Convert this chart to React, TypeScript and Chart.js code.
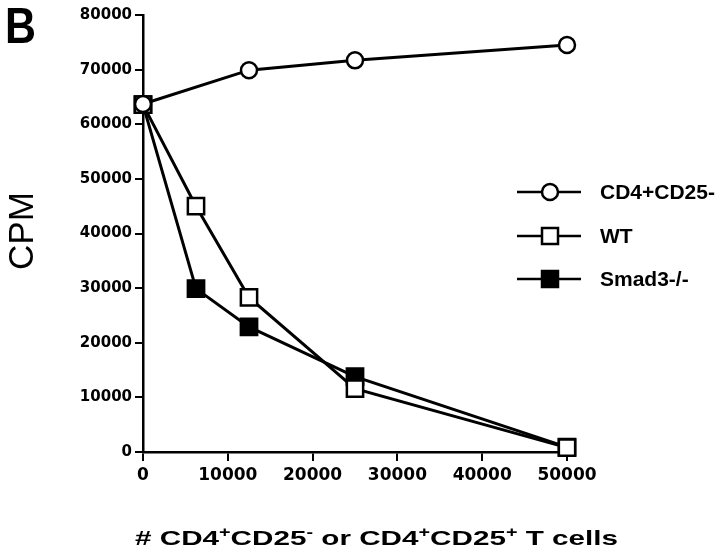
import { useEffect, useRef } from "react";
import { Chart, registerables } from "chart.js";

Chart.register(...registerables);

// ---- data ----
const controlCells = [0, 12500, 25000, 50000];
const controlCPM = [63700, 69900, 71700, 74500];
const suppressorCells = [0, 6250, 12500, 25000, 50000];
const wtCPM = [63600, 45000, 28300, 11600, 800];
const smadCPM = [63600, 29900, 22900, 13800, 900];
const seriesNames = ["CD4+CD25-", "WT", "Smad3-/-"];
const xTicks = [0, 10000, 20000, 30000, 40000, 50000];
const yTicks = [0, 10000, 20000, 30000, 40000, 50000, 60000, 70000, 80000];
const panelLetter = "B";
const yTitle = "CPM";
const xTitleParts: [string, boolean][] = [
  ["# CD4", false],
  ["+", true],
  ["CD25", false],
  ["-", true],
  [" or CD4", false],
  ["+", true],
  ["CD25", false],
  ["+", true],
  [" T cells", false],
];

function toPoints(xs: number[], ys: number[]) {
  return xs.map((x, i) => ({ x, y: ys[i] }));
}

function drawFitted(
  ctx: CanvasRenderingContext2D,
  text: string,
  x: number,
  y: number,
  width: number,
  font: string
) {
  ctx.save();
  ctx.font = font;
  const w = ctx.measureText(text).width;
  ctx.translate(x, y);
  ctx.scale(width / w, 1);
  ctx.fillText(text, 0, 0);
  ctx.restore();
}

const decorPlugin = {
  id: "decor",
  afterDraw(chart: any) {
    const ctx: CanvasRenderingContext2D = chart.ctx;
    ctx.save();
    ctx.fillStyle = "#000";
    ctx.strokeStyle = "#000";
    ctx.textBaseline = "alphabetic";
    ctx.textAlign = "left";

    // Panel letter
    drawFitted(ctx, panelLetter, 5, 43, 31, "bold 50px 'Liberation Sans'");

    // Y title (rotated)
    ctx.save();
    ctx.translate(33, 270);
    ctx.rotate(-Math.PI / 2);
    drawFitted(ctx, yTitle, 0, 0, 78, "35px 'Liberation Sans'");
    ctx.restore();

    // X title with superscripts
    const mainFont = "bold 21px 'Liberation Sans'";
    const supFont = "bold 14px 'Liberation Sans'";
    let total = 0;
    const widths = xTitleParts.map(([t, sup]) => {
      ctx.font = sup ? supFont : mainFont;
      const w = ctx.measureText(t).width;
      total += w;
      return w;
    });
    const targetW = 483;
    const sx = targetW / total;
    ctx.save();
    ctx.translate(135, 545);
    ctx.scale(sx, 1);
    let cx = 0;
    xTitleParts.forEach(([t, sup], i) => {
      ctx.font = sup ? supFont : mainFont;
      ctx.fillText(t, cx, sup ? -8 : 0);
      cx += widths[i];
    });
    ctx.restore();

    // Legend
    const legendY = [192, 236, 279];
    legendY.forEach((ly, i) => {
      ctx.lineWidth = 2.5;
      ctx.beginPath();
      ctx.moveTo(517, ly);
      ctx.lineTo(581, ly);
      ctx.stroke();
      if (i === 0) {
        ctx.beginPath();
        ctx.arc(550, ly, 8, 0, Math.PI * 2);
        ctx.fillStyle = "#fff";
        ctx.fill();
        ctx.stroke();
      } else {
        ctx.beginPath();
        ctx.rect(550 - 8, ly - 8, 16, 16);
        ctx.fillStyle = i === 1 ? "#fff" : "#000";
        ctx.fill();
        ctx.stroke();
      }
      ctx.fillStyle = "#000";
      ctx.font = "bold 21px 'Liberation Sans'";
      ctx.textBaseline = "middle";
      ctx.fillText(seriesNames[i], 600, ly + 1);
      ctx.textBaseline = "alphabetic";
    });
    ctx.restore();
  },
};

export default function App() {
  const canvasRef = useRef<HTMLCanvasElement | null>(null);

  useEffect(() => {
    if (!canvasRef.current) return;
    const common = {
      borderColor: "#000",
      borderWidth: 3,
      pointBorderColor: "#000",
      pointBorderWidth: 2.5,
      tension: 0,
      clip: false as const,
      fill: false,
    };
    const chart = new Chart(canvasRef.current, {
      type: "line",
      data: {
        datasets: [
          {
            ...common,
            label: seriesNames[0],
            data: toPoints(controlCells, controlCPM),
            pointStyle: "circle",
            pointRadius: 8,
            pointHoverRadius: 8,
            pointBackgroundColor: "#fff",
          },
          {
            ...common,
            label: seriesNames[1],
            data: toPoints(suppressorCells, wtCPM),
            pointStyle: "rect",
            pointRadius: 11.5,
            pointHoverRadius: 11.5,
            pointBackgroundColor: "#fff",
          },
          {
            ...common,
            label: seriesNames[2],
            data: toPoints(suppressorCells, smadCPM),
            pointStyle: "rect",
            pointRadius: 11.5,
            pointHoverRadius: 11.5,
            pointBackgroundColor: "#000",
          },
        ],
      },
      options: {
        animation: false,
        responsive: false,
        events: [],
        layout: { padding: { top: 15, right: 153, left: 0, bottom: 0 } },
        plugins: {
          legend: { display: false },
          tooltip: { enabled: false },
          title: { display: false },
        },
        scales: {
          x: {
            type: "linear",
            min: 0,
            max: 50000,
            afterBuildTicks: (s: any) => {
              s.ticks = xTicks.map((v) => ({ value: v }));
            },
            afterFit: (s: any) => {
              s.height = 104;
            },
            ticks: {
              color: "#000",
              font: { family: "'DejaVu Sans'", weight: "bold", size: 17 },
              padding: 4,
              maxRotation: 0,
              autoSkip: false,
              callback: (v: any) => String(v),
            },
            grid: {
              drawOnChartArea: false,
              drawTicks: true,
              tickLength: 9,
              color: "#000",
              lineWidth: 2,
            },
            border: { display: true, color: "#000", width: 2.5 },
          },
          y: {
            type: "linear",
            min: 0,
            max: 80000,
            afterBuildTicks: (s: any) => {
              s.ticks = yTicks.map((v) => ({ value: v }));
            },
            afterFit: (s: any) => {
              s.width = 143;
            },
            ticks: {
              color: "#000",
              font: { family: "'DejaVu Sans'", weight: "bold", size: 15 },
              padding: 3,
              autoSkip: false,
              callback: (v: any) => String(v),
            },
            grid: {
              drawOnChartArea: false,
              drawTicks: true,
              tickLength: 8,
              color: "#000",
              lineWidth: 2,
            },
            border: { display: true, color: "#000", width: 2.5 },
          },
        },
      },
      plugins: [decorPlugin],
    });
    return () => chart.destroy();
  }, []);

  return (
    <div
      style={{
        position: "fixed",
        left: 0,
        top: 0,
        width: 720,
        height: 556,
        background: "#fff",
      }}
    >
      <canvas ref={canvasRef} width={720} height={556} />
    </div>
  );
}
